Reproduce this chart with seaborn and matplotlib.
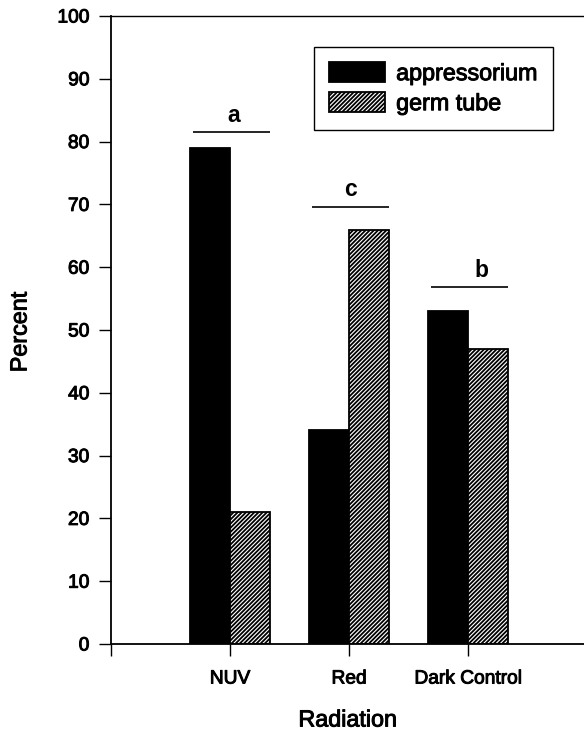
import matplotlib
matplotlib.use("Agg")
import matplotlib.pyplot as plt
import matplotlib.patheffects as pe
import pandas as pd
import seaborn as sns

# Germination outcome by radiation treatment
treatments = ["NUV", "Red", "Dark Control"]
appressorium = [79, 34, 53]
germ_tube = [21, 66, 47]
series_names = ["appressorium", "germ tube"]

# Significance groups drawn above each treatment
sig_letters = ["a", "c", "b"]
sig_line_heights = [81.5, 69.6, 56.8]

y_ticks = [0, 10, 20, 30, 40, 50, 60, 70, 80, 90, 100]

df = pd.DataFrame({
    "Radiation": treatments * 2,
    "Percent": appressorium + germ_tube,
    "Type": [series_names[0]] * len(treatments) + [series_names[1]] * len(treatments),
})

sns.set_style("ticks")
plt.rcParams["font.family"] = ["Liberation Sans", "DejaVu Sans"]
plt.rcParams["hatch.linewidth"] = 1.3
plt.rcParams["hatch.color"] = "black"
plt.rcParams["text.color"] = "black"
plt.rcParams["axes.labelcolor"] = "black"
plt.rcParams["xtick.color"] = "black"
plt.rcParams["ytick.color"] = "black"

fig = plt.figure(figsize=(5.84, 7.31), dpi=100)
ax = fig.add_axes([111 / 584, 87 / 731, 473 / 584, 628 / 731])

sns.barplot(
    data=df, x="Radiation", y="Percent", hue="Type",
    order=treatments, hue_order=series_names,
    palette={series_names[0]: "black", series_names[1]: "white"},
    width=0.67, gap=0, edgecolor="black", linewidth=1.3,
    legend=False, ax=ax, saturation=1,
)

for patch in ax.containers[1]:
    patch.set_hatch("////////")

heavy = [pe.withStroke(linewidth=0.7, foreground="black")]

# Significance brackets and letters
offsets = [0.034, 0.01, 0.11]
for i, (letter, h) in enumerate(zip(sig_letters, sig_line_heights)):
    ax.plot([i - 0.31, i + 0.34], [h, h], color="black", lw=1.2,
            solid_capstyle="butt")
    ax.text(i + offsets[i], h + 1.7, letter, ha="center", va="baseline",
            fontsize=16.5, fontweight="bold", color="black")

ax.set_xlim(-1, 2.975)
ax.set_ylim(0, 100)
ax.set_yticks(y_ticks)
ax.set_xticks([-1, 0, 1, 2])
ax.set_xticklabels([""] + treatments)

for side in ["left", "bottom", "top"]:
    ax.spines[side].set_visible(True)
    ax.spines[side].set_color("black")
ax.spines["left"].set_linewidth(1.3)
ax.spines["bottom"].set_linewidth(1.3)
ax.spines["top"].set_linewidth(1.0)
ax.spines["right"].set_visible(False)

ax.tick_params(axis="both", direction="out", length=8.6, width=1.0,
               colors="black", labelsize=13.8)
ax.tick_params(axis="y", pad=7)
ax.tick_params(axis="x", pad=10.5)
for lbl in ax.get_xticklabels() + ax.get_yticklabels():
    lbl.set_path_effects(heavy)

ax.set_ylabel("Percent", fontsize=16.8, color="black")
ax.set_xlabel("Radiation", fontsize=16.8, color="black")
ax.yaxis.label.set_va("center")
ax.xaxis.label.set_va("center")
ax.yaxis.set_label_coords(-0.1924, 0.497)
ax.xaxis.set_label_coords(0.501, -0.121)
ax.yaxis.label.set_path_effects(heavy)
ax.xaxis.label.set_path_effects(heavy)

leg = ax.legend(
    [ax.containers[0], ax.containers[1]], series_names,
    loc="upper left", bbox_to_anchor=(314 / 584, 1 - 47 / 731),
    bbox_transform=fig.transFigure, borderaxespad=0,
    fontsize=16.8, frameon=True, fancybox=False, shadow=False,
    framealpha=1, edgecolor="black",
    handlelength=2.4, handleheight=0.9, handletextpad=0.47,
    borderpad=0.65, labelspacing=0.3,
)
leg.get_frame().set_linewidth(1.0)
for t in leg.get_texts():
    t.set_color("black")
    t.set_path_effects(heavy)

fig.savefig("out.png", dpi=100)
